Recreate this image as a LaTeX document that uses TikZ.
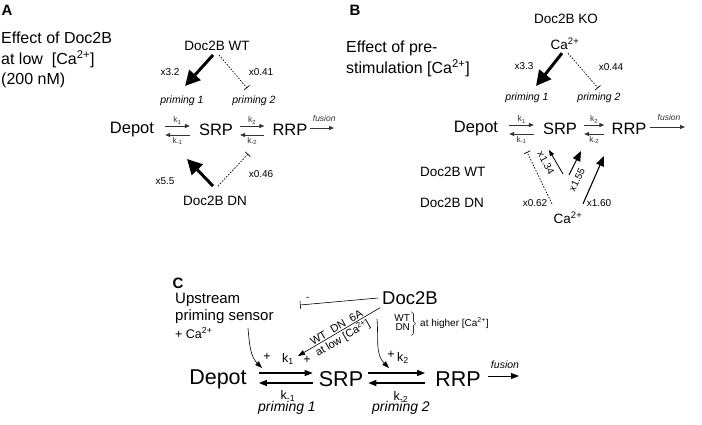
\documentclass[tikz,border=0pt]{standalone}
\usepackage{fontspec}
\setmainfont{Liberation Sans}
\usetikzlibrary{arrows.meta}
\tikzset{
  panel/.style={font=\bfseries\fontsize{15}{17}\selectfont, inner sep=0pt},
  title/.style={font=\fontsize{16}{20.5}\selectfont, align=left, inner sep=0pt},
  lbl/.style={font=\fontsize{13.5}{16}\selectfont, inner sep=0pt},
  state/.style={font=\fontsize{16.5}{18}\selectfont, inner sep=0pt},
  bigstate/.style={font=\fontsize{21.5}{24}\selectfont, inner sep=0pt},
  rate/.style={font=\fontsize{8.5}{10}\selectfont, inner sep=1.5pt},
  bigrate/.style={font=\fontsize{12.5}{14}\selectfont, inner sep=0pt},
  prim/.style={font=\itshape\fontsize{10.5}{12}\selectfont, inner sep=0pt},
  bigprim/.style={font=\itshape\fontsize{14}{16}\selectfont, inner sep=0pt},
  fold/.style={font=\fontsize{10}{12}\selectfont, inner sep=0pt},
  eq/.style={-{Triangle[length=5pt,width=4pt]}, line width=0.8pt, black!80},
  bigeq/.style={-{Triangle[length=8pt,width=6pt]}, line width=1.2pt},
  boost/.style={-{Triangle[length=15pt,width=15pt]}, line width=3pt},
  mild/.style={-{Triangle[length=10pt,width=8pt]}, line width=1.1pt},
  weak/.style={-{Triangle[length=6pt,width=4.5pt]}, line width=0.8pt},
  block/.style={dash pattern=on 1.5pt off 1.5pt, -{Bar[width=7pt]}, line width=0.7pt},
  effect/.style={-{Triangle[length=7pt,width=5pt]}, line width=0.6pt}
}
\begin{document}
\begin{tikzpicture}[x=1pt,y=-1pt]
\useasboundingbox (0,0) rectangle (702,424);
% --- A ---
\node[panel] (labA) at (7,10) {A};
\node[title, anchor=north west] (ttlA) at (1,32) {Effect of Doc2B\\at low~ [Ca\textsuperscript{2+}]\\(200 nM)};
\node[lbl] (wtA) at (217,46) {Doc2B WT};
\node[lbl] (dnA) at (215,201) {Doc2B DN};
\node[prim] (p1A) at (182,101) {priming 1};
\node[prim] (p2A) at (254,101) {priming 2};
\node[state] (dA) at (132,130) {Depot};
\node[state] (sA) at (216,130) {SRP};
\node[state] (rA) at (290,130) {RRP};
\coordinate (fA) at (334,128);
\coordinate (hA1) at (185,86);
\coordinate (hA2) at (247,88);
\coordinate (hA3) at (187,159);
\coordinate (hA4) at (248,154);
\draw[eq] ([xshift=11pt,yshift=4pt]dA.east) -- ([xshift=-9pt,yshift=4pt]sA.west)
  node[rate, midway, above] (k1A) {k\textsubscript{1}};
\draw[eq] ([xshift=-9pt,yshift=-5pt]sA.west) -- ([xshift=11pt,yshift=-5pt]dA.east)
  node[rate, midway, below] (km1A) {k\textsubscript{-1}};
\draw[eq] ([xshift=7pt,yshift=4pt]sA.east) -- ([xshift=-8pt,yshift=4pt]rA.west)
  node[rate, midway, above] (k2A) {k\textsubscript{2}};
\draw[eq] ([xshift=-8pt,yshift=-5pt]rA.west) -- ([xshift=7pt,yshift=-5pt]sA.east)
  node[rate, midway, below] (km2A) {k\textsubscript{-2}};
\draw[eq] ([xshift=2pt,yshift=2pt]rA.east) -- (fA)
  node[prim, font=\itshape\fontsize{8.5}{10}\selectfont, pos=0.6, above=6pt] (fuA) {fusion};
\draw[boost] ([xshift=-4pt,yshift=-4pt]wtA.south) -- (hA1);
\draw[block] ([xshift=2pt,yshift=-4pt]wtA.south) -- (hA2);
\draw[boost] ([xshift=-2pt,yshift=10pt]dnA.north) -- (hA3);
\draw[block] ([xshift=3pt,yshift=10pt]dnA.north) -- (hA4);
\node[fold] (xA1) at (170,72) {x3.2};
\node[fold] (xA2) at (261,72) {x0.41};
\node[fold] (xA3) at (165,181) {x5.5};
\node[fold] (xA4) at (261,174) {x0.46};
% --- B ---
\node[panel] (labB) at (355,10) {B};
\node[title, anchor=north west] (ttlB) at (346,41) {Effect of pre-\\stimulation [Ca\textsuperscript{2+}]};
\node[lbl] (koB) at (566,19) {Doc2B KO};
\node[lbl] (caB) at (565,44) {Ca\textsuperscript{2+}};
\node[prim] (p1B) at (527,98) {priming 1};
\node[prim] (p2B) at (599,98) {priming 2};
\node[state] (dB) at (476,129) {Depot};
\node[state] (sB) at (560,129) {SRP};
\node[state] (rB) at (629,129) {RRP};
\coordinate (fB) at (685,127);
\coordinate (hB1) at (536,86);
\coordinate (hB2) at (598,88);
\node[lbl, anchor=west] (wtB) at (420,172) {Doc2B WT};
\node[lbl, anchor=west] (dnB) at (420,203) {Doc2B DN};
\node[lbl] (ca2B) at (568,218) {Ca\textsuperscript{2+}};
\coordinate (hB3) at (549,150);
\coordinate (hB4) at (581,151);
\coordinate (hB5) at (604,156);
\coordinate (hB6) at (527,152);
\coordinate (tB3) at (563,174);
\coordinate (tB4) at (569,175);
\draw[eq] ([xshift=11pt,yshift=4pt]dB.east) -- ([xshift=-9pt,yshift=4pt]sB.west)
  node[rate, midway, above] (k1B) {k\textsubscript{1}};
\draw[eq] ([xshift=-9pt,yshift=-5pt]sB.west) -- ([xshift=11pt,yshift=-5pt]dB.east)
  node[rate, midway, below] (km1B) {k\textsubscript{-1}};
\draw[eq] ([xshift=7pt,yshift=4pt]sB.east) -- ([xshift=-7pt,yshift=4pt]rB.west)
  node[rate, midway, above] (k2B) {k\textsubscript{2}};
\draw[eq] ([xshift=-7pt,yshift=-5pt]rB.west) -- ([xshift=7pt,yshift=-5pt]sB.east)
  node[rate, midway, below] (km2B) {k\textsubscript{-2}};
\draw[eq] ([xshift=3pt,yshift=2pt]rB.east) -- (fB)
  node[prim, font=\itshape\fontsize{8.5}{10}\selectfont, pos=0.55, above=6pt] (fuB) {fusion};
\draw[boost] ([xshift=-3pt,yshift=-3pt]caB.south) -- (hB1);
\draw[block] ([xshift=3pt,yshift=-3pt]caB.south) -- (hB2);
\draw[weak] (tB3) -- (hB3);
\draw[mild] (tB4) -- (hB4);
\draw[mild] ([xshift=15pt,yshift=8pt]ca2B.north) -- (hB5);
\draw[block] ([xshift=-16pt,yshift=8pt]ca2B.north) -- (hB6);
\node[fold, rotate=-62] (xB3) at (546,163) {x1.34};
\node[fold, rotate=64] (xB4) at (577,180) {x1.55};
\node[fold] (xB1) at (524,66) {x3.3};
\node[fold] (xB2) at (611,67) {x0.44};
\node[fold] (xB6) at (535,203) {x0.62};
\node[fold] (xB5) at (599,203) {x1.60};
% --- C ---
\node[panel] (labC) at (178,283) {C};
\node[title, anchor=north west, font=\fontsize{15}{16.5}\selectfont] (upC) at (175,293) {Upstream\\priming sensor};
\node[fold, font=\fontsize{12.5}{14}\selectfont, anchor=west] (caC) at (175,333) {+ Ca\textsuperscript{2+}};
\node[font=\fontsize{18.5}{20}\selectfont, inner sep=0pt] (docC) at (410,298) {Doc2B};
\node[bigstate] (dC) at (218,379) {Depot};
\node[bigstate] (sC) at (341,379) {SRP};
\node[bigstate] (rC) at (458,379) {RRP};
\coordinate (fC) at (519,376);
\coordinate (inhC) at (300,305);
\coordinate (actC) at (298,356);
\coordinate (upT) at (248,328);
\coordinate (upH) at (262,368);
\coordinate (docT) at (377,319);
\coordinate (docH) at (389,368);
\draw[bigeq] ([xshift=12pt,yshift=6pt]dC.east) -- ([xshift=-6pt,yshift=6pt]sC.west);
\draw[bigeq] ([xshift=-6pt,yshift=-4pt]sC.west) -- ([xshift=12pt,yshift=-4pt]dC.east);
\draw[bigeq] ([xshift=5pt,yshift=6pt]sC.east) -- ([xshift=-10pt,yshift=6pt]rC.west);
\draw[bigeq] ([xshift=-10pt,yshift=-4pt]rC.west) -- ([xshift=5pt,yshift=-4pt]sC.east);
\draw[bigeq, line width=0.9pt] ([xshift=7pt,yshift=3pt]rC.east) -- (fC)
  node[prim, pos=0.55, above=7pt] (fuC) {fusion};
\node[bigrate] (k1C) at (288,359) {k\textsubscript{1}};
\node[bigrate] (km1C) at (288,396) {k\textsubscript{-1}};
\node[bigrate] (k2C) at (403,358) {k\textsubscript{2}};
\node[bigrate] (km2C) at (401,397) {k\textsubscript{-2}};
\node[bigrate] (plA) at (267,357) {+};
\node[bigrate] (plB) at (307,360) {+};
\node[bigrate] (plC) at (391,355) {+};
\node[bigprim] (p1C) at (287,408) {priming 1};
\node[bigprim] (p2C) at (401,408) {priming 2};
\draw[-{Bar[width=8pt]}, line width=0.6pt] ([xshift=-4pt]docC.west) -- (inhC)
  node[fold, pos=0.9, above=4pt] (minC) {-};
\draw[effect] ([xshift=-2pt,yshift=-3pt]docC.south west) -- (actC)
  node[fold, font=\fontsize{11}{12}\selectfont, midway, sloped, above=1pt] (modC) {WT\ \ DN\ \ 6A}
  node[fold, font=\fontsize{11}{12}\selectfont, midway, sloped, below=1pt] (lowC) {at low [Ca\textsuperscript{2+}]};
\draw[effect] (upT) to[out=-85, in=135] (upH);
\draw[effect] (docT) to[out=-85, in=135] (docH);
\node[fold, anchor=west] (hiC) at (393,324) {$\left.\mbox{\begin{tabular}{@{}r@{}}WT\\[-3pt]DN\end{tabular}}\right\}$ at higher [Ca\textsuperscript{2+}]};
\end{tikzpicture}
\end{document}
